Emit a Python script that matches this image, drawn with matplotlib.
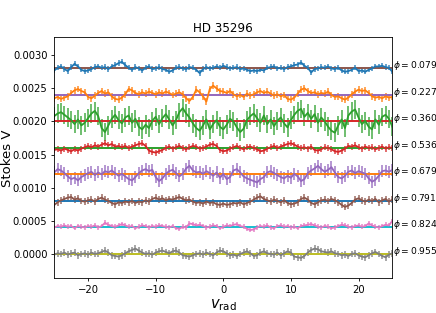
import numpy as np
import matplotlib
matplotlib.use("Agg")
import matplotlib.pyplot as plt
from matplotlib.colors import to_rgba

title = "HD 35296"
phases = ["0.079", "0.227", "0.360", "0.536", "0.679", "0.791", "0.824", "0.955"]
offsets = [0.0028, 0.0024, 0.0020, 0.0016, 0.0012, 0.0008, 0.0004, 0.0]
vrad = np.arange(-25, 25.01, 0.5)

# Stokes V values in units of 1e-5
v_079 = [-3, 1, 3, -1, -4, 2, 7, 3, -2, -4,
         -3, -1, 2, 3, 1, 2, -1, 3, 5, 8,
         10, 5, 1, -2, 2, 0, -3, 1, 3, -1,
         0, 2, -1, -2, -5, -3, 1, 2, 0, -1,
         2, 1, -2, -7, -1, 2, 0, 1, 3, 1,
         4, 2, 0, 1, 2, -1, 0, -2, -4, -3,
         -4, -2, -3, 1, 2, 3, 0, 1, -1, 2,
         3, 5, 6, 9, 4, 1, -6, -1, 0, 2,
         1, 3, 0, -1, 1, -3, -5, -4, -2, 1,
         -4, -3, -5, -2, 0, 3, 3, 4, 2, 1,
         -5]
v_227 = [-5, -3, -6, -4, -2, 3, 7, 9, 6, 4,
         -3, -5, -1, 3, 6, 2, 4, -2, -6, -7,
         -4, 1, 9, 7, 3, 1, 4, 2, 5, 3,
         1, 4, 2, 5, 3, 0, 2, 4, 1, -5,
         -9, -3, 8, 4, -2, -10, 9, 14, 10, 6,
         5, 3, 6, 1, -2, 0, -3, 2, -1, 1,
         4, 6, 3, 5, 2, -1, 1, -2, 0, -6,
         -7, -4, 2, 8, 10, 6, 3, 4, 1, 3,
         2, 5, 0, -3, -2, -5, -7, -4, 1, 5,
         8, 6, 7, 3, -2, -4, -3, -5, -2, -4,
         -3]
v_360 = [8, 12, 14, 10, 6, 2, -4, 3, -6, -2,
         5, 12, 16, 8, -10, -16, -6, 4, 10, 2,
         -3, 6, 9, -2, 4, -8, -12, -5, -10, 1,
         7, -4, 5, 11, 3, -6, 2, 14, 20, 12,
         6, -3, -10, -14, -6, 3, -12, -4, 2, -8,
         -12, -5, 4, 0, -9, -16, -11, 2, 8, 12,
         5, -2, 9, -4, 3, -7, 1, 6, -3, -9,
         2, 10, 16, 19, 7, 13, 4, 11, -2, 6,
         0, -8, -14, -17, -6, 3, -10, 9, 15, 18,
         6, -4, 1, -8, -12, 3, -5, 7, 10, 4,
         -8]
v_536 = [-3, -2, -4, -1, -3, -5, -2, -4, -1, 1,
         3, 1, 4, 2, 5, 7, 4, 6, 2, 3,
         1, 3, 0, 2, 4, 6, 7, 3, -4, -6,
         -7, -5, -3, 0, 2, -1, 1, 3, 0, -2,
         1, 3, 2, -1, 0, 2, 5, 6, 3, -3,
         -5, -4, -1, 1, 3, 0, -2, 1, 2, 0,
         -2, -5, -4, -1, 1, 3, 0, 2, 4, 6,
         7, 5, 2, 0, 1, -1, 2, -3, -4, -2,
         1, 0, -2, -5, -6, -4, -1, 3, 2, 4,
         1, -1, 2, 0, 1, -2, 0, 2, -1, 1,
         0]
v_679 = [3, 8, 6, 2, -3, -7, -5, -9, -4, -1,
         2, 4, -1, 3, 0, 5, 3, 6, 2, -2,
         1, -3, -7, -9, -4, 2, 6, 8, 5, 7,
         -4, -10, -6, 1, 5, 7, 2, -3, 1, 9,
         13, 6, 3, 4, 1, 5, 2, -2, 3, -5,
         1, -7, -4, 6, 8, 3, -3, -6, -8, -10,
         -12, -7, -4, 3, 5, 2, -1, -4, -6, -2,
         -5, 1, -3, -10, -7, 2, 6, 9, 13, 8,
         4, 7, 11, 3, -4, -6, -2, 4, 6, 2,
         5, 3, 1, -6, -11, -8, -2, 5, 6, 4,
         7]
v_791 = [-6, -2, 1, 3, 5, 6, 2, 4, 0, -1,
         1, 2, -1, 3, 5, 2, 0, -3, -5, -2,
         -3, -1, -2, 0, -3, -1, -2, 1, -1, 3,
         5, 2, 4, 1, 3, 2, 4, 6, 3, 1,
         2, -1, -3, -2, -4, -1, -3, -2, -5, -6,
         -4, -6, -5, -3, -4, -2, -5, -3, -1, 2,
         5, 7, 3, 1, -1, 2, 0, -2, 1, -3,
         -5, -4, -2, 3, 5, 2, -3, -5, -2, 1,
         2, 0, 3, 1, -2, -6, -9, -7, -3, 2,
         4, 1, -1, 2, 0, 3, -2, 1, 3, -1,
         2]
v_824 = [0, 2, 1, 3, 1, 2, -1, 2, 1, 0,
         2, 1, 3, 0, 2, 7, 4, 2, 1, 3,
         5, 3, 1, 2, -1, 1, 3, 2, 0, 2,
         1, 3, 2, 1, 0, 2, -1, -2, 1, 0,
         6, 5, 3, 4, 2, 0, 1, 3, 2, -1,
         1, 3, 2, 4, 5, 2, 1, -2, -4, -3,
         0, 2, 1, 3, 0, -1, 2, 3, 1, 2,
         0, 1, -1, 2, 3, 4, 5, 3, 1, 0,
         2, 1, -1, 0, 2, 4, 3, 1, 0, 2,
         3, 1, 2, 6, 3, 1, 0, 2, 4, 3,
         10]
v_955 = [-1, 1, 0, 2, -1, 1, 2, -2, 0, 1,
         -1, 2, 0, 1, 3, 5, 2, -2, -3, -4,
         -2, 1, 4, 6, 8, 5, 2, 0, 1, -1,
         2, 4, 5, 3, 1, 4, 5, 2, -2, -3,
         -4, -2, 0, 1, -1, 2, 0, -2, 2, 5,
         4, 1, -2, -1, -3, 0, 2, 4, 1, -3,
         -2, 2, 4, 1, 0, -1, 2, -2, 1, 4,
         2, -4, -5, -6, -3, 2, 6, 8, 7, 4,
         3, 2, 4, 1, 0, -2, -1, -3, 0, 1,
         -2, -4, -5, -2, 1, 3, 0, -3, -5, -1,
         1]
series = [v_079, v_227, v_360, v_536, v_679, v_791, v_824, v_955]
# typical error bar half-lengths, units of 1e-5
errors = [4, 5, 14, 4.5, 9, 5, 3.5, 5]

plt.rcParams["font.family"] = "DejaVu Sans"
plt.rcParams["font.size"] = 7.2
plt.rcParams["mathtext.fontset"] = "dejavusans"

fig = plt.figure(figsize=(4.36, 3.13), dpi=100)
ax = fig.add_axes([0.1245, 0.111, 0.7753, 0.7698])

for i, (vals, off) in enumerate(zip(series, offsets)):
    y = np.array(vals) * 1e-5 + off
    ax.errorbar(vrad, y, yerr=errors[i] * 1e-5, color=f"C{i}",
                ecolor=to_rgba(f"C{i}", 0.8), lw=1.3, elinewidth=1.2)

hcolors = ["C8", "C9", "C0", "C1", "C2", "C3", "C4", "C5"]
for off, c in zip(offsets[::-1], hcolors):
    ax.axhline(off, color=c, lw=1.4)

for ph, off in zip(phases, offsets):
    ax.text(25.05, off, r"$\phi = %s$" % ph, fontsize=6.6)

ax.set_xlim(-25, 25)
ax.set_ylim(-0.000367, 0.00327)
ax.tick_params(labelsize=7.2, length=2.5, width=0.6, pad=2.4)
for s in ax.spines.values():
    s.set_linewidth(0.6)
ax.set_title(title, fontsize=8.6, pad=4)
ax.set_ylabel("Stokes V", fontsize=9.5)
ax.yaxis.set_label_coords(-0.118, 0.5)
ax.set_xlabel(r"$v_{\rm rad}$", fontsize=10.5, labelpad=1.5)
fig.savefig("out.png", dpi=100)
